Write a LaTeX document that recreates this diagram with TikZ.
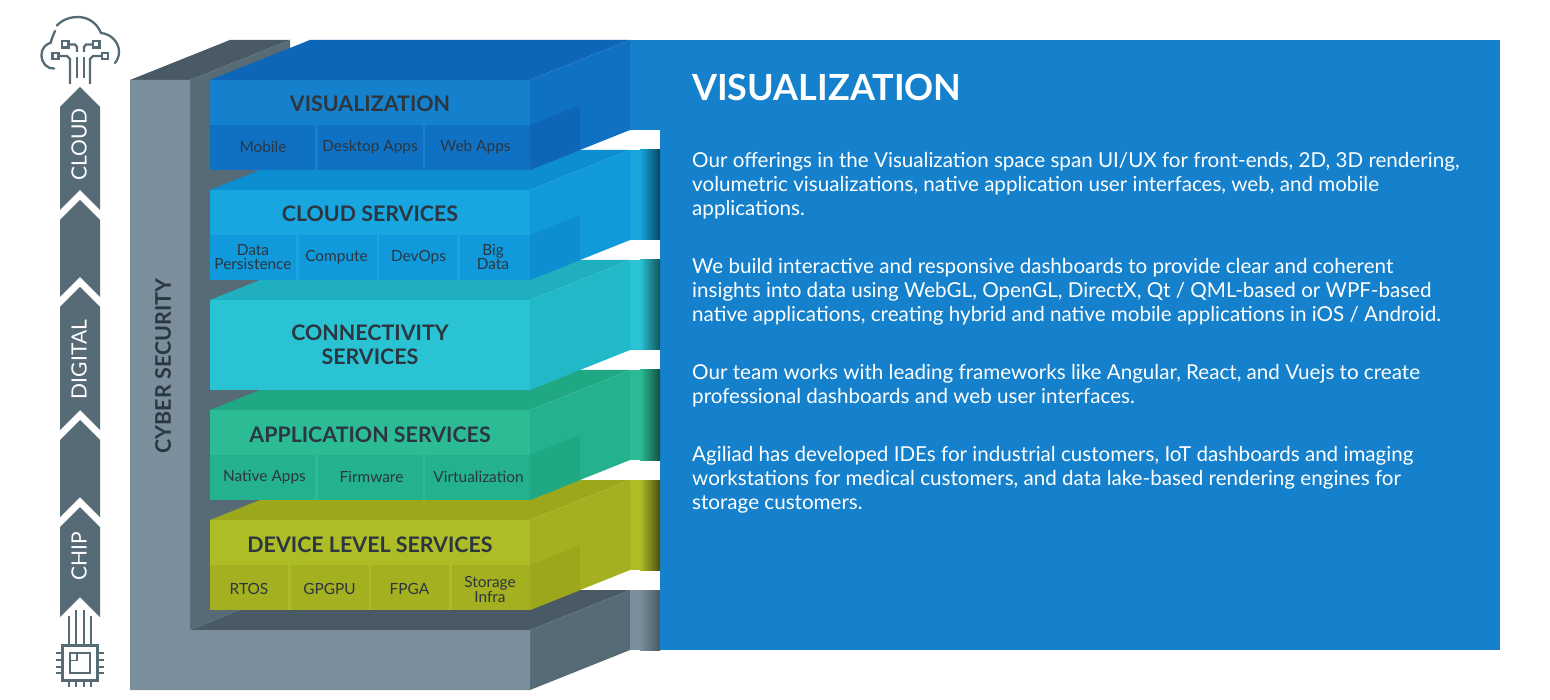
\documentclass[tikz,border=0pt]{standalone}
\usepackage{fontspec}
\setmainfont{Lato}
\definecolor{ink}{HTML}{2B3640}
\definecolor{slateA}{HTML}{566B76}
\definecolor{slateB}{HTML}{4A5A64}
\definecolor{slateC}{HTML}{7A8F9B}
\definecolor{panel}{HTML}{1581CC}
% visualization
\definecolor{aF}{HTML}{1581CC}\definecolor{aB}{HTML}{0F71C4}\definecolor{aT}{HTML}{0E66B8}
% cloud
\definecolor{bF}{HTML}{17A6E0}\definecolor{bB}{HTML}{109ADB}\definecolor{bT}{HTML}{0D8ED0}
% connectivity
\definecolor{cF}{HTML}{2AC3D3}\definecolor{cB}{HTML}{21B8C8}\definecolor{cT}{HTML}{1FAFBE}
% application
\definecolor{dF}{HTML}{2BBC96}\definecolor{dB}{HTML}{24B28E}\definecolor{dT}{HTML}{1FA883}
% device
\definecolor{eF}{HTML}{AEBD25}\definecolor{eB}{HTML}{A5B020}\definecolor{eT}{HTML}{9CA71C}
\tikzset{
  layertitle/.style={text=ink,font=\bfseries\fontsize{21.4}{24}\selectfont,align=center,inner sep=0pt},
  celltext/.style={text=ink,font=\fontsize{15.4}{14}\selectfont,align=center,inner sep=0pt},
  tag/.style={text=white,font=\fontsize{21}{22}\selectfont,rotate=90,inner sep=0pt},
  para/.style={text=white,font=\fontsize{20.6}{24}\selectfont,align=left,anchor=north west,inner sep=0pt},
  icon/.style={draw=slateA,line width=2.3pt,fill=none},
}
% \slab[opacity of inner block]{letter}{y0}: one slab of the stack, front top edge at y0
\newcommand{\slab}[3][1]{%
  \fill[#2T] (210,#3) -- (310,#3-40) -- (630,#3-40) -- (530,#3) -- cycle;
  \fill[#2B] (530,#3) -- (630,#3-40) -- (630,#3+50) -- (530,#3+90) -- cycle;
  \fill[#2T,opacity=#1] (530,#3+45) -- (580,#3+25) -- (580,#3+70) -- (530,#3+90) -- cycle;
  \fill[#2F] (210,#3) rectangle (530,#3+90);
}
\newcommand{\band}[2]{\fill[#1B] (210,#2+45) rectangle (530,#2+90);}
\newcommand{\sep}[3]{\fill[#1F] (#3,#2+45) rectangle (#3+2.6,#2+90);}
\newcommand{\edgestrip}[2]{%
  \fill[#1F] (630,#2-40) rectangle (640.5,#2+50);
  \shade[left color=#1F,right color=#1F!42!black] (640,#2-40) rectangle (660,#2+50);
}
\begin{document}
\begin{tikzpicture}[x=1pt,y=-1pt]
\useasboundingbox (0,0) rectangle (1550,700);
\fill[white] (0,0) rectangle (1550,700);

% --- frame
\fill[slateB] (130,80) -- (230,40) -- (290,40) -- (190,80) -- cycle;
\fill[slateA] (190,80) -- (290,40) -- (290,590) -- (190,630) -- cycle;
\fill[slateB] (190,630) -- (290,590) -- (630,590) -- (530,630) -- cycle;
\fill[slateA] (530,630) -- (630,590) -- (630,650) -- (530,690) -- cycle;
\fill[slateC] (130,80) -- (190,80) -- (190,630) -- (530,630) -- (530,690) -- (130,690) -- cycle;
\fill[slateC] (630,590) rectangle (640.5,650);
\shade[left color=slateC,right color=slateB] (640,590) rectangle (660,650);

% --- panel
\fill[panel] (660,40) rectangle (1500,650);
\fill[panel] (630,40) rectangle (660.5,130);

% --- strips
\edgestrip{e}{520}
\edgestrip{d}{410}
\edgestrip{c}{300}
\edgestrip{b}{190}

% --- slabs, bottom first
\slab{e}{520}\band{e}{520}
\sep{e}{520}{288}\sep{e}{520}{368.7}\sep{e}{520}{449.3}
\slab{d}{410}\band{d}{410}
\sep{d}{410}{315}\sep{d}{410}{422.7}
\slab[0]{c}{300}
\slab{b}{190}\band{b}{190}
\sep{b}{190}{296}\sep{b}{190}{376.7}\sep{b}{190}{457.3}
\slab{a}{80}\band{a}{80}
\sep{a}{80}{315}\sep{a}{80}{422.7}

% --- slab labels
\node[layertitle] (visT) at (370,104) {VISUALIZATION};
\node[celltext] (visA) at (263,147) {Mobile};
\node[celltext] (visB) at (370,147) {Desktop Apps};
\node[celltext] (visC) at (475.5,147) {Web Apps};
\node[layertitle] (cloT) at (370,214) {CLOUD SERVICES};
\node[celltext] (cloA) at (253,257) {Data\\Persistence};
\node[celltext] (cloB) at (336.500,257) {Compute};
\node[celltext] (cloC) at (418.500,257) {DevOps};
\node[celltext] (cloD) at (493,257) {Big\\Data};
\node[layertitle] (conT) at (370,345) {CONNECTIVITY\\SERVICES};
\node[layertitle] (appT) at (370,435) {APPLICATION SERVICES};
\node[celltext] (appA) at (264.500,477) {Native Apps};
\node[celltext] (appB) at (371.500,477) {Firmware};
\node[celltext] (appC) at (478.500,477) {Virtualization};
\node[layertitle] (devT) at (370,545) {DEVICE LEVEL SERVICES};
\node[celltext] (devA) at (249,589) {RTOS};
\node[celltext] (devB) at (329.500,589) {GPGPU};
\node[celltext] (devC) at (409.500,589) {FPGA};
\node[celltext] (devD) at (490,589) {Storage\\Infra};
\node[text=ink,font=\bfseries\fontsize{21.5}{22}\selectfont,rotate=90,inner sep=0pt] (cyber) at (163,366) {CYBER SECURITY};

% --- left arrow column
\fill[slateA] (80,87) -- (100,107) -- (100,210) -- (80,190) -- (60,210) -- (60,107) -- cycle;
\fill[slateA] (80,200) -- (100,220) -- (100,297) -- (80,277) -- (60,297) -- (60,220) -- cycle;
\fill[slateA] (80,287) -- (100,307) -- (100,430) -- (80,410) -- (60,430) -- (60,307) -- cycle;
\fill[slateA] (80,420) -- (100,440) -- (100,517) -- (80,497) -- (60,517) -- (60,440) -- cycle;
\fill[slateA] (80,507) -- (100,527) -- (100,617) -- (80,597) -- (60,617) -- (60,527) -- cycle;
\node[tag] (tagCloud) at (79,144.500) {CLOUD};
\node[tag] (tagDigital) at (79,359.500) {DIGITAL};
\node[tag] (tagChip) at (79,556.500) {CHIP};

% --- cloud icon
\draw[icon,line cap=round] (54,68.500) .. controls (47,69) and (41.500,63) .. (41.500,55)
  .. controls (41.500,49) and (45,44.500) .. (51,42.500)
  .. controls (51,40) and (53,36) .. (55,31);
\draw[icon,line cap=round] (57,25.500) .. controls (63,19) and (71,17) .. (78,17)
  .. controls (88,17) and (97,23) .. (101,33)
  .. controls (111,34) and (119,42) .. (119,52)
  .. controls (119,56) and (117.500,60) .. (115,63);
% icon traces
\draw[icon] (62,41) rectangle (68.500,47.500);
\draw[icon] (93,41) rectangle (99.500,47.500);
\draw[icon] (52.500,53) rectangle (58.500,59);
\draw[icon] (102,53) rectangle (108,59);
\draw[icon] (68.500,44.500) -- (75,44.500) -- (77,47) -- (77,52);
\draw[icon] (93,44.500) -- (86,44.500) -- (84,47) -- (84,52);
\draw[icon] (58.500,56) -- (67,56) -- (70,59) -- (70,84);
\draw[icon] (102,56) -- (93,56) -- (90,59) -- (90,84);
\draw[icon] (77,57) -- (77,78);
\draw[icon] (84,57) -- (84,78);

% --- chip icon
\draw[icon] (62.500,645.500) rectangle (97.500,680.500);
\draw[icon] (70,653) rectangle (90,673);
\draw[icon,line width=1.600pt] (70,660.500) -- (77,660.500) -- (77,653);
\foreach \px in {69,76,84,91}{
  \draw[icon] (\px,681) -- (\px,687);
}
\foreach \py in {653,660,667,673}{
  \draw[icon] (56,\py) -- (62,\py);
  \draw[icon] (98,\py) -- (104,\py);
}
\draw[icon] (69,616) -- (69,645);
\draw[icon] (91,616) -- (91,645);
\draw[icon] (76,610) -- (76,645);
\draw[icon] (84,610) -- (84,645);

% --- text panel
\node[anchor=base west,text=white,inner sep=0pt,font=\bfseries\fontsize{36}{40}\selectfont] (head) at (692,101) {VISUALIZATION};
\node[para] (p1) at (692,152) {Our offerings in the Visualization space span UI/UX for front-ends, 2D, 3D rendering,\\volumetric visualizations, native application user interfaces, web, and mobile\\applications.};
\node[para] (p2) at (692,258) {We build interactive and responsive dashboards to provide clear and coherent\\insights into data using WebGL, OpenGL, DirectX, Qt / QML-based or WPF-based\\native applications, creating hybrid and native mobile applications in iOS / Android.};
\node[para] (p3) at (692,364) {Our team works with leading frameworks like Angular, React, and Vuejs to create\\professional dashboards and web user interfaces.};
\node[para] (p4) at (692,446) {Agiliad has developed IDEs for industrial customers, IoT dashboards and imaging\\workstations for medical customers, and data lake-based rendering engines for\\storage customers.};
\end{tikzpicture}
\end{document}
